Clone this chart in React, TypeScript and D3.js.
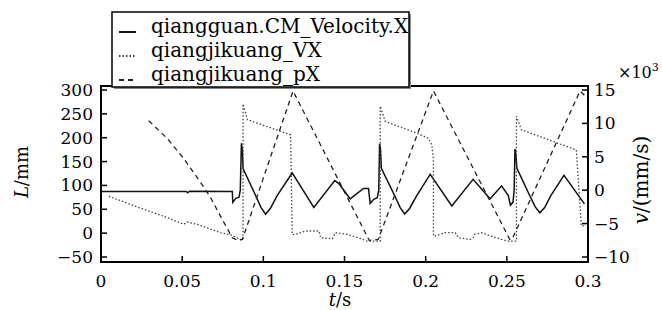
import React from "react";
import * as d3 from "d3";

// ---- data ----
// qiangjikuang_pX (left axis, L / mm)
const pxT = [0.0294, 0.0407, 0.051, 0.0612, 0.0674, 0.0735, 0.0809, 0.084, 0.0871, 0.1183, 0.1652, 0.1708, 0.2048, 0.2518, 0.2532, 0.2951, 0.2994];
const pxL = [235.7, 198.8, 156.4, 107, 75.2, 36.3, -9.7, -14.6, -13.3, 297.9, -15, -13.3, 298, -13.3, -13, 298, 283.7];

// qiangjikuang_VX (right axis, v / 10^3 mm/s)
const vxT = [0.0048, 0.0202, 0.0407, 0.051, 0.0534, 0.0612, 0.0735, 0.0799, 0.0858, 0.0875, 0.0875, 0.0902, 0.1168, 0.1178, 0.1199, 0.126, 0.1343, 0.1353, 0.1425, 0.1445, 0.1517, 0.1586, 0.1638, 0.172, 0.172, 0.1751, 0.1946, 0.2017, 0.2038, 0.2048, 0.2048, 0.2058, 0.212, 0.2182, 0.2202, 0.2274, 0.2292, 0.2303, 0.2343, 0.2466, 0.2508, 0.2559, 0.2559, 0.259, 0.2928, 0.2959, 0.298];
const vxV = [-0.91, -2.32, -4.09, -5.11, -4.74, -5.26, -6.36, -6.67, -7.38, -7.38, 12.92, 10.56, 8.29, -6.62, -6.62, -6.11, -6.11, -7.12, -7.27, -6.36, -6.62, -7.12, -7.62, -7.62, 12.58, 10.3, 8.53, 7.77, 6.77, 4.55, -6.86, -6.86, -6.36, -6.36, -7.12, -7.38, -7.12, -6.62, -6.36, -7.38, -7.62, -7.62, 11.06, 9.05, 6.02, -5.35, -5.35];

// qiangguan.CM_Velocity.X (right axis)
const cmT = [0.0003, 0.0526, 0.0534, 0.0545, 0.0809, 0.0812, 0.083, 0.085, 0.0858, 0.0865, 0.0871, 0.0875, 0.0949, 0.0986, 0.1014, 0.1044, 0.1085, 0.1178, 0.1311, 0.144, 0.1465, 0.1535, 0.1617, 0.1648, 0.1658, 0.168, 0.1702, 0.1711, 0.1716, 0.1722, 0.1727, 0.1805, 0.1843, 0.1871, 0.1902, 0.1945, 0.2028, 0.2161, 0.2292, 0.2397, 0.2468, 0.2509, 0.2522, 0.2538, 0.2545, 0.255, 0.2556, 0.2562, 0.2637, 0.2675, 0.2703, 0.2733, 0.2771, 0.2852, 0.2978];
const cmV = [-0.2, -0.2, -0.38, -0.15, -0.2, -1.82, -1.21, -1.06, 0, 7.02, 6.06, 3.23, -0.6, -2.6, -3.59, -2.7, -0.8, 2.58, -2.58, 1.44, 0.98, -1.29, 0.26, 0.26, -1.97, -1.36, -1.14, 0, 6.97, 6.06, 3.26, -0.6, -2.6, -3.56, -2.7, -0.8, 2.38, -2.35, 1.62, -1.29, 0.65, -0.79, -2.23, -1.82, 0, 6.17, 5.3, 3.26, -0.6, -2.5, -3.38, -2.6, -0.8, 2.24, -2.05];

const xTicks = [0, 0.05, 0.1, 0.15, 0.2, 0.25, 0.3];
const xTickLabels = ["0", "0.05", "0.1", "0.15", "0.2", "0.25", "0.3"];
const lTicks = [-50, 0, 50, 100, 150, 200, 250, 300];
const lTickLabels = ["\u221250", "0", "50", "100", "150", "200", "250", "300"];
const vTicks = [-10, -5, 0, 5, 10, 15];
const vTickLabels = ["\u221210", "\u22125", "0", "5", "10", "15"];
const legendLabels = ["qiangguan.CM_Velocity.X", "qiangjikuang_VX", "qiangjikuang_pX"];

const FONT = "DejaVu Serif";

export default function App() {
  const left = 101, right = 588, top = 86, bottom = 262;
  const x = d3.scaleLinear().domain([0, 0.3]).range([left, right]);
  const yL = d3.scaleLinear().domain([-50, 300]).range([257, 90]);
  const yR = d3.scaleLinear().domain([-10, 15]).range([257, 90]);

  const lineL = d3.line<[number, number]>().x((d) => x(d[0])).y((d) => yL(d[1]));
  const lineR = d3.line<[number, number]>().x((d) => x(d[0])).y((d) => yR(d[1]));

  const px = pxT.map((t, i) => [t, pxL[i]] as [number, number]);
  const vx = vxT.map((t, i) => [t, vxV[i]] as [number, number]);
  const cm = cmT.map((t, i) => [t, cmV[i]] as [number, number]);

  const fs = 17;
  const styles = [
    { dash: "none", color: "#111", w: 1.5 },
    { dash: "1.5,2", color: "#444", w: 1.3 },
    { dash: "5,4", color: "#222", w: 1.3 },
  ];

  return (
    <svg width={662} height={310} style={{ position: "absolute", left: 0, top: 0, background: "#fff" }} fontFamily={FONT}>
      <rect x={0} y={0} width={662} height={310} fill="#fff" />
      <defs>
        <clipPath id="clip">
          <rect x={left} y={top} width={right - left} height={bottom - top} />
        </clipPath>
      </defs>
      <g clipPath="url(#clip)">
        <path d={lineR(cm) || ""} fill="none" stroke={styles[0].color} strokeWidth={styles[0].w} />
        <path d={lineR(vx) || ""} fill="none" stroke={styles[1].color} strokeWidth={styles[1].w} strokeDasharray={styles[1].dash} />
        <path d={lineL(px) || ""} fill="none" stroke={styles[2].color} strokeWidth={styles[2].w} strokeDasharray={styles[2].dash} />
      </g>
      {/* frame */}
      <rect x={left} y={top} width={right - left} height={bottom - top} fill="none" stroke="#000" strokeWidth={2} />
      {xTicks.map((t, i) => (
        <g key={"x" + i}>
          <line x1={x(t)} x2={x(t)} y1={bottom} y2={bottom - 6} stroke="#000" strokeWidth={1.5} />
          <text x={x(t)} y={287} textAnchor="middle" fontSize={fs} fill="#000">{xTickLabels[i]}</text>
        </g>
      ))}
      {lTicks.map((v, i) => (
        <g key={"l" + i}>
          <line x1={left} x2={left + 6} y1={yL(v)} y2={yL(v)} stroke="#000" strokeWidth={1.5} />
          <text x={93} y={yL(v) + 6} textAnchor="end" fontSize={fs} fill="#000">{lTickLabels[i]}</text>
        </g>
      ))}
      {vTicks.map((v, i) => (
        <g key={"r" + i}>
          <line x1={right} x2={right - 6} y1={yR(v)} y2={yR(v)} stroke="#000" strokeWidth={1.5} />
          <text x={594} y={yR(v) + 6} textAnchor="start" fontSize={fs} fill="#000">{vTickLabels[i]}</text>
        </g>
      ))}
      <text transform="translate(28,172) rotate(-90)" textAnchor="middle" fontSize={18} fill="#000">
        <tspan fontStyle="italic">L</tspan>/mm
      </text>
      <text transform="translate(648,180) rotate(-90)" textAnchor="middle" fontSize={20} fill="#000">
        <tspan fontStyle="italic">v</tspan>/(mm/s)
      </text>
      <text x={340} y={306} textAnchor="middle" fontSize={18} fill="#000">
        <tspan fontStyle="italic">t</tspan>/s
      </text>
      <text x={618} y={78} fontSize={16} fill="#000">
        {"\u00d710"}
        <tspan dy={-7} fontSize={11}>3</tspan>
      </text>
      {/* legend */}
      <rect x={114} y={14} width={297} height={75} fill="#888" />
      <rect x={112} y={12} width={297} height={75} fill="#fff" stroke="#000" strokeWidth={1.5} />
      {legendLabels.map((lab, i) => {
        const cy = 26 + i * 24;
        const s = styles[i];
        return (
          <g key={"lg" + i}>
            <line x1={119} x2={136} y1={cy + 6} y2={cy + 6} stroke={s.color} strokeWidth={s.w + 0.5} strokeDasharray={s.dash} />
            <text x={151} y={cy + 7} fontSize={20} fill="#000">{lab}</text>
          </g>
        );
      })}
    </svg>
  );
}
